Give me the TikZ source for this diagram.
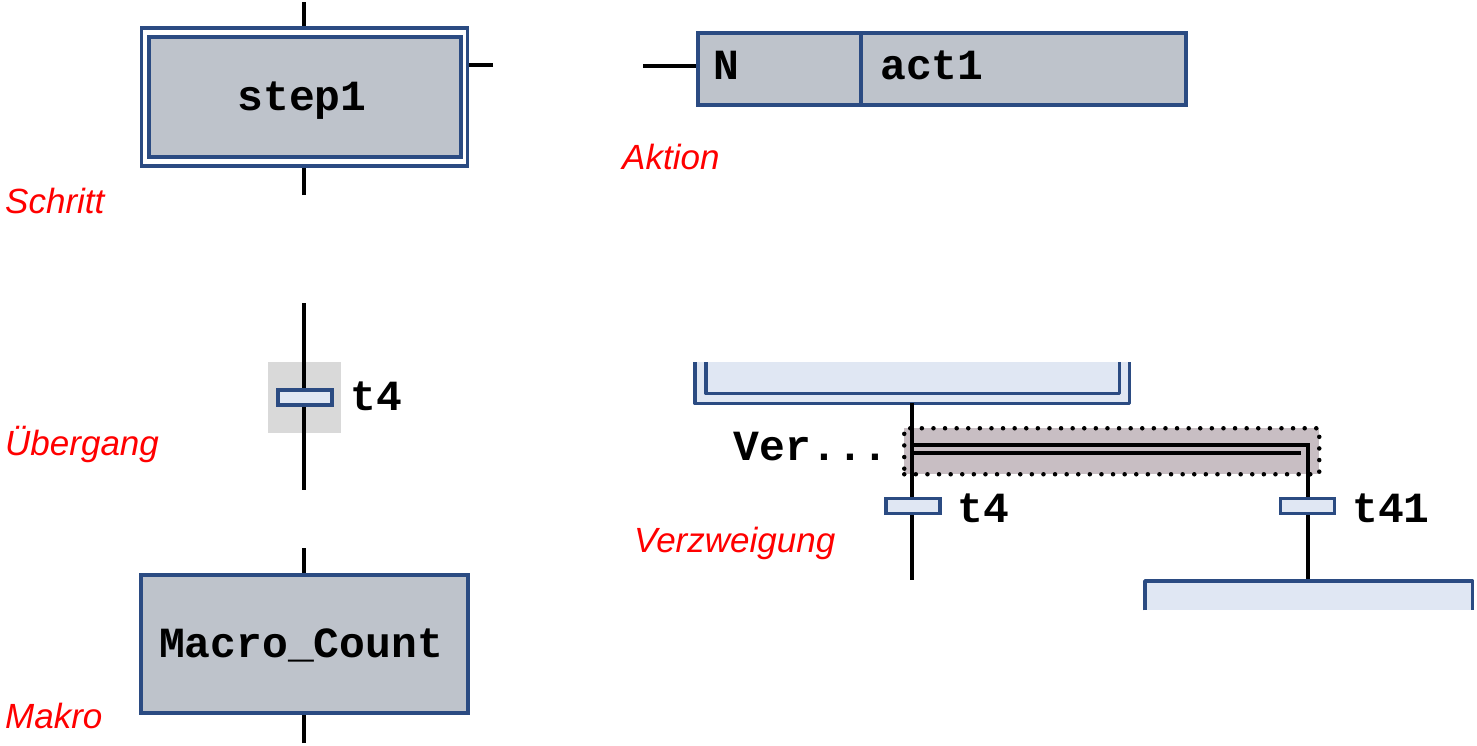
\documentclass[tikz,border=0pt]{standalone}
\usepackage{fontspec}
\setmainfont{Liberation Sans}
\newfontfamily\monof{Liberation Mono}
\definecolor{sfcblue}{HTML}{2B4B82}
\definecolor{stepgray}{HTML}{BEC3CB}
\definecolor{lightblue}{HTML}{E0E7F3}
\definecolor{trgray}{HTML}{D9D9D9}
\definecolor{selmauve}{HTML}{C8BEC3}
\tikzset{
  box/.style={draw=sfcblue, line width=3.5pt, fill=stepgray, inner sep=0pt, rectangle},
  wire/.style={line width=3.3pt, black},
  bluewire/.style={line width=3.5pt, sfcblue, line join=round},
  lbl/.style={text=red, font=\fontsize{35}{40}\selectfont\itshape, inner sep=0pt, anchor=base west},
  code/.style={font=\monof\bfseries\fontsize{43}{48}\selectfont, inner sep=0pt},
  trbar/.style={draw=sfcblue, line width=3.5pt, fill=lightblue, minimum width=54pt, minimum height=15pt, inner sep=0pt, rectangle},
}
\begin{document}
\begin{tikzpicture}[x=1pt,y=-1pt]
\useasboundingbox (0,0) rectangle (1477,745);

% ---------- Schritt ----------
\node[box, fill=white, minimum width=326pt, minimum height=138pt] (s1o) at (304.5,97) {};
\node[box, minimum width=312pt, minimum height=120pt] (s1i) at (305,97) {};
\node[code, anchor=base] (s1t) at (302,110) {step1};
\coordinate (s1top) at (304,2);
\coordinate (s1bot) at (304,195);
\coordinate (s1r) at (493,65);
\draw[wire] (s1top) -- (s1top |- s1o.north);
\draw[wire] (s1bot) -- (s1bot |- s1o.south);
\draw[wire] (s1r) -- (s1r -| s1o.east);
\node[lbl] (lschritt) at (5,213) {Schritt};

% ---------- Aktion ----------
\node[box, minimum width=163pt, minimum height=72pt, anchor=north west] (actq) at (696,31) {};
\node[box, minimum width=325pt, minimum height=72pt, anchor=north west] (actn) at (859,31) {};
\node[code, anchor=base west] (tq) at (713,79) {N};
\node[code, anchor=base west] (tn) at (880,79) {act1};
\coordinate (astub) at (643,66);
\draw[wire] (astub) -- (astub -| actq.west);
\node[lbl] (laktion) at (622,169) {Aktion};

% ---------- Uebergang ----------
\node[fill=trgray, minimum width=73pt, minimum height=71pt, inner sep=0pt] (tsq) at (304.5,397.5) {};
\coordinate (ttop) at (304,303);
\coordinate (tbot) at (304,490);
\draw[wire] (ttop) -- (tbot);
\node[trbar] (tbar) at (305,397.5) {};
\node[code, anchor=base west] (tlab) at (350,410) {t4};
\node[lbl] (luebergang) at (5,455) {Übergang};

% ---------- Makro ----------
\node[box, minimum width=327pt, minimum height=138pt] (mac) at (304.5,644) {};
\node[code, anchor=base] (mact) at (301,657) {Macro\_Count};
\coordinate (mtop) at (304,548);
\coordinate (mbot) at (304,743);
\draw[wire] (mtop) -- (mtop |- mac.north);
\draw[wire] (mbot) -- (mbot |- mac.south);
\node[lbl] (lmakro) at (5,728) {Makro};

% ---------- Verzweigung ----------
\node[fill=lightblue, minimum width=434pt, minimum height=41pt, inner sep=0pt, anchor=north west] (ps) at (695,362) {};
\draw[bluewire] (ps.north west) -- (ps.south west) -- (ps.south east) -- (ps.north east);
\draw[bluewire] ([xshift=11pt]ps.north west) -- ([xshift=11pt,yshift=10pt]ps.south west) -- ([xshift=-10pt,yshift=10pt]ps.south east) -- ([xshift=-10pt]ps.north east);

\node[draw=black, line width=4.5pt, dash pattern=on 0pt off 11.6pt, line cap=round, fill=selmauve, minimum width=415pt, minimum height=46pt, inner sep=0pt, anchor=north west] (sel) at (902,426) {};

\coordinate (b1end) at (912,580);
\coordinate (b2end) at (1307,581);
\coordinate (dtl) at (912,445);
\coordinate (dtr) at (1308,445);
\coordinate (dbl) at (912,453);
\coordinate (dbr) at (1301,453);
\draw[wire] (912,403) -- (b1end);
\draw[wire, line join=miter] (dtl) -- (dtr) -- (b2end -| dtr);
\draw[wire] (dbl) -- (dbr);

\node[code, anchor=base east] (ver) at (889,460) {Ver...};

\node[trbar] (b1bar) at (913,506) {};
\node[trbar] (b2bar) at (1307.5,506) {};
\node[code, anchor=base west] (b1lab) at (957,522) {t4};
\node[code, anchor=base west] (b2lab) at (1352,522) {t41};

\node[fill=lightblue, minimum width=327pt, minimum height=29pt, inner sep=0pt, anchor=north west] (ns) at (1145,581) {};
\draw[bluewire] (ns.south west) -- (ns.north west) -- (ns.north east) -- (ns.south east);

\node[lbl] (lverz) at (634,552) {Verzweigung};
\end{tikzpicture}
\end{document}
